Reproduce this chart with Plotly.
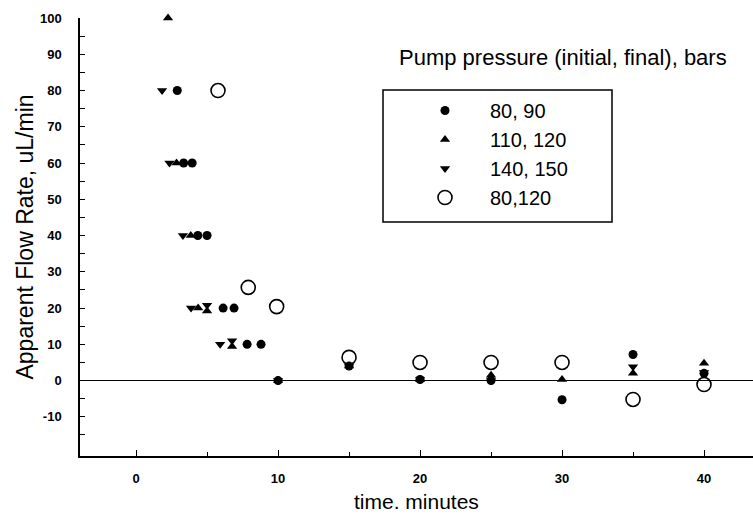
import plotly.graph_objects as go

# ---- data ----
series_names = ["80, 90", "110, 120", "140, 150", "80,120"]

t_8090 = [2.9, 3.35, 3.95, 4.35, 5.0, 6.13, 6.9, 7.82, 8.8, 10, 15, 20, 25, 30, 35, 40]
v_8090 = [80, 60, 60, 40, 40, 20, 20, 10, 10, 0, 4, 0.3, 0.0, -5.3, 7.2, 2.0]

t_110120 = [2.25, 2.85, 3.85, 4.37, 5.0, 6.76, 10, 15, 20, 25, 30, 35, 40]
v_110120 = [100, 60, 40, 20, 19.2, 9.4, 0, 4, 0.3, 1.5, 0.3, 2.0, 4.8]

t_140150 = [1.83, 2.35, 3.3, 3.87, 5.0, 5.92, 6.76, 10, 15, 20, 25, 35, 40]
v_140150 = [80, 60, 40, 20, 20.8, 10, 11.0, 0, 4, 0.3, 0.0, 3.8, 2.2]

t_80120 = [5.77, 7.9, 9.9, 15, 20, 25, 30, 35, 40]
v_80120 = [80, 25.7, 20.4, 6.4, 5, 5, 5, -5.2, -1.1]

x_tickvals = [0, 10, 20, 30, 40]
x_minor = [5, 15, 25, 35]
y_tickvals = [-10, 0, 10, 20, 30, 40, 50, 60, 70, 80, 90, 100]
y_minor = [-15, -5, 5, 15, 25, 35, 45, 55, 65, 75, 85, 95]

legend_title = "Pump pressure (initial, final), bars"
x_title = "time. minutes"
y_title = "Apparent Flow Rate, uL/min"

FONT = "Liberation Sans, Arial, Helvetica, sans-serif"

fig = go.Figure()
fig.add_trace(go.Scatter(x=t_8090, y=v_8090, mode="markers", name=series_names[0],
                         legendgroup="a",
                         marker=dict(symbol="circle", size=9, color="black"),
                         cliponaxis=False))
fig.add_trace(go.Scatter(x=t_110120, y=v_110120, mode="markers", name=series_names[1],
                         legendgroup="b",
                         marker=dict(symbol="triangle-up", size=9, color="black"),
                         cliponaxis=False))
fig.add_trace(go.Scatter(x=t_140150, y=v_140150, mode="markers", name=series_names[2],
                         legendgroup="c",
                         marker=dict(symbol="triangle-down", size=9, color="black"),
                         cliponaxis=False))
fig.add_trace(go.Scatter(x=t_80120, y=v_80120, mode="markers", name=series_names[3],
                         legendgroup="d",
                         marker=dict(symbol="circle-open", size=14, color="black",
                                     line=dict(width=1.6, color="black")),
                         cliponaxis=False))

W, H = 753, 515
L, R, T, B = 80, 0, 18, 59
pw, ph = W - L - R, H - T - B


def px2paper(px, py):
    return (px - L) / pw, (H - B - py) / ph


bx0, by0 = px2paper(383, 222)
bx1, by1 = px2paper(612, 90)
tx, ty = px2paper(397, 57)
lx, ly = px2paper(400, 91)
xtx, xty = px2paper(416, 501)

fig.update_layout(
    width=W, height=H,
    margin=dict(l=L, r=R, t=T, b=B, pad=0, autoexpand=False),
    paper_bgcolor="white", plot_bgcolor="white",
    font=dict(family=FONT, color="black"),
    showlegend=True,
    legend=dict(x=lx, y=ly, xanchor="left", yanchor="top",
                bgcolor="rgba(0,0,0,0)", borderwidth=0,
                font=dict(size=20, family=FONT, color="black"),
                itemwidth=80, traceorder="grouped", tracegroupgap=0),
    shapes=[dict(type="rect", xref="paper", yref="paper",
                 x0=bx0, y0=by0, x1=bx1, y1=by1,
                 line=dict(color="black", width=1.5), fillcolor="rgba(0,0,0,0)")],
    annotations=[
        dict(text=legend_title, xref="paper", yref="paper",
             x=tx, y=ty, xanchor="left", yanchor="middle",
             showarrow=False, font=dict(size=22, family=FONT, color="black")),
        dict(text=x_title, xref="paper", yref="paper",
             x=xtx, y=xty, xanchor="center", yanchor="middle", borderpad=0,
             showarrow=False, font=dict(size=21, family=FONT, color="black")),
    ],
)

fig.update_xaxes(
    range=[-3.95, 43.45], showgrid=False, zeroline=False, automargin=False,
    showline=True, linecolor="black", linewidth=1.5,
    ticks="inside", ticklen=6, tickwidth=1, tickcolor="black",
    tickvals=x_tickvals, ticktext=[str(v) for v in x_tickvals],
    minor=dict(tickvals=x_minor, ticks="inside", ticklen=4, tickwidth=1, tickcolor="black"),
    tickfont=dict(size=13, family=FONT, color="black", weight="bold"),
    ticklabelstandoff=10,
)
fig.update_yaxes(
    range=[-20.8, 100], showgrid=False, automargin=False,
    zeroline=True, zerolinecolor="black", zerolinewidth=1,
    showline=True, linecolor="black", linewidth=1.5,
    ticks="inside", ticklen=5, tickwidth=1, tickcolor="black",
    tickvals=y_tickvals, ticktext=[str(v) for v in y_tickvals],
    minor=dict(tickvals=y_minor, ticks="inside", ticklen=5, tickwidth=1, tickcolor="black"),
    tickfont=dict(size=13, family=FONT, color="black", weight="bold"),
    ticklabelstandoff=14,
    title=dict(text=y_title, font=dict(size=23, family=FONT, color="black"), standoff=0),
)

fig.write_html("out.html")
